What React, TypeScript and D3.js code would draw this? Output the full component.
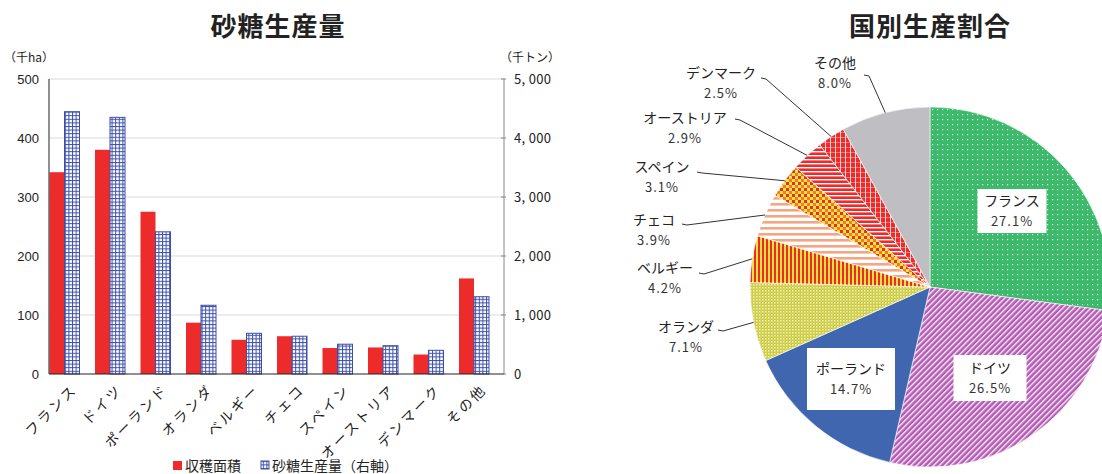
import React from "react";
import * as d3 from "d3";

// ---- data ----
const categories = ["フランス", "ドイツ", "ポーランド", "オランダ", "ベルギー", "チェコ", "スペイン", "オーストリア", "デンマーク", "その他"];
const harvestArea = [342, 380, 275, 87, 58, 64, 44, 45, 33, 162]; // 千ha
const sugarProduction = [4446, 4350, 2410, 1165, 690, 640, 505, 480, 402, 1310]; // 千トン
const shares = [27.1, 26.5, 14.7, 7.1, 4.2, 3.9, 3.1, 2.9, 2.5, 8.0]; // %
const leftTicks = [0, 100, 200, 300, 400, 500];
const rightTicks = [0, 1000, 2000, 3000, 4000, 5000];

// ---- layout / styles ----
const JP = "'Noto Sans CJK JP', 'Noto Sans', sans-serif";
const W = 1102, H = 474;
const plot = { left: 49, right: 504, top: 79, bottom: 374 };
const pieC = { x: 930, y: 287, r: 180 };
const sliceFills = ["url(#pFr)", "url(#pDe)", "#4066B0", "url(#pNl)", "url(#pBe)", "url(#pCz)", "url(#pEs)", "url(#pAt)", "url(#pDk)", "#BFBFC3"];
const insideLabels: Record<number, { cx: number; cy: number; w: number; h: number }> = {
  0: { cx: 1012, cy: 211, w: 69, h: 44 },
  1: { cx: 990, cy: 378, w: 73, h: 46 },
  2: { cx: 851, cy: 379, w: 88, h: 62 },
};
const outsideLabels: Record<number, { cx: number; cy: number; lx: number; ly: number }> = {
  3: { cx: 686, cy: 327, lx: 718, ly: 330 },
  4: { cx: 665, cy: 268, lx: 699, ly: 273 },
  5: { cx: 654, cy: 220, lx: 682, ly: 224 },
  6: { cx: 662, cy: 167, lx: 697, ly: 172 },
  7: { cx: 685, cy: 118, lx: 735, ly: 119 },
  8: { cx: 721, cy: 73, lx: 761, ly: 78 },
  9: { cx: 835, cy: 63, lx: 864, ly: 75 },
};

export default function App() {
  const x = d3.scaleBand<string>().domain(categories).range([plot.left, plot.right]).paddingInner(0).paddingOuter(0);
  const yL = d3.scaleLinear().domain([0, 500]).range([plot.bottom, plot.top]);
  const yR = d3.scaleLinear().domain([0, 5000]).range([plot.bottom, plot.top]);
  const barW = 15;
  const fmt = d3.format(",");

  const pieGen = d3.pie<number>().sort(null).value((d) => d).startAngle(0).endAngle(2 * Math.PI);
  const arcs = pieGen(shares);
  const arcGen = d3.arc<d3.PieArcDatum<number>>().innerRadius(0).outerRadius(pieC.r);

  return (
    <svg width={W} height={H} style={{ position: "absolute", left: 0, top: 0, background: "#fff" }} fontFamily={JP}>
      <defs>
        <pattern id="pBlue" width="3.6" height="3.6" patternUnits="userSpaceOnUse">
          <rect width="3.6" height="3.6" fill="#fff" />
          <rect x="0" y="0" width="3.6" height="1" fill="#3D4FA8" />
          <rect x="0" y="0" width="1" height="3.6" fill="#3D4FA8" />
        </pattern>
        <pattern id="pFr" width="5" height="5" patternUnits="userSpaceOnUse">
          <rect width="5" height="5" fill="#3DB96B" />
          <rect x="2" y="2" width="1.2" height="1.2" fill="#fff" opacity="0.85" />
        </pattern>
        <pattern id="pDe" width="4" height="4" patternUnits="userSpaceOnUse" patternTransform="rotate(45)">
          <rect width="4" height="4" fill="#B55AB4" />
          <rect x="0" y="0" width="1.4" height="4" fill="#fff" opacity="0.9" />
        </pattern>
        <pattern id="pNl" width="3" height="3" patternUnits="userSpaceOnUse">
          <rect width="3" height="3" fill="#CBC936" />
          <rect x="0" y="0" width="1.5" height="1.5" fill="#fff" opacity="0.75" />
          <rect x="1.5" y="1.5" width="1" height="1" fill="#fff" opacity="0.5" />
        </pattern>
        <pattern id="pBe" width="4" height="4" patternUnits="userSpaceOnUse">
          <rect width="4" height="4" fill="#EE2B2B" />
          <rect x="2" y="0" width="2" height="4" fill="#F2E23E" />
        </pattern>
        <pattern id="pCz" width="6" height="6" patternUnits="userSpaceOnUse">
          <rect width="6" height="6" fill="#fff" />
          <rect x="0" y="0" width="6" height="2.6" fill="#F4A582" />
        </pattern>
        <pattern id="pEs" width="6" height="6" patternUnits="userSpaceOnUse">
          <rect width="6" height="6" fill="#EE2B2B" />
          <rect x="0" y="0" width="3" height="3" fill="#F0E43E" />
          <rect x="3" y="3" width="3" height="3" fill="#F0E43E" />
          <rect x="3" y="0" width="3" height="3" fill="#F07B30" />
        </pattern>
        <pattern id="pAt" width="4" height="4" patternUnits="userSpaceOnUse">
          <rect width="4" height="4" fill="#EE2B2B" />
          <rect x="0" y="0" width="4" height="1.4" fill="#fff" />
        </pattern>
        <pattern id="pDk" width="5" height="5" patternUnits="userSpaceOnUse">
          <rect width="5" height="5" fill="#EE2B2B" />
          <rect x="0" y="0" width="0.8" height="5" fill="#fff" />
          <rect x="0" y="0" width="5" height="0.6" fill="#fff" opacity="0.6" />
        </pattern>
      </defs>

      {/* Titles */}
      <text x={278} y={36} textAnchor="middle" fontSize={26} fontWeight="bold" fill="#222" letterSpacing={1}>砂糖生産量</text>
      <text x={930} y={36} textAnchor="middle" fontSize={26} fontWeight="bold" fill="#222" letterSpacing={1}>国別生産割合</text>

      {/* Bar chart */}
      <text x={4} y={62} fontSize={12} fill="#222">（千ha）</text>
      <text x={500} y={62} fontSize={12} fill="#222">（千トン）</text>
      {leftTicks.slice(1).map((t) => (
        <line key={"g" + t} x1={plot.left} x2={plot.right} y1={yL(t)} y2={yL(t)} stroke="#D9D9D9" strokeWidth={1} />
      ))}
      {categories.map((c, i) => {
        const bx = x(c)!;
        return (
          <g key={c}>
            <rect x={bx + 0.5} y={yL(harvestArea[i])} width={barW} height={plot.bottom - yL(harvestArea[i])} fill="#EE2B2B" />
            <rect x={bx + 0.5 + barW} y={yR(sugarProduction[i])} width={barW} height={plot.bottom - yR(sugarProduction[i])} fill="url(#pBlue)" stroke="#3D4FA8" strokeWidth={1} />
          </g>
        );
      })}
      <line x1={plot.left} x2={plot.left} y1={plot.top} y2={plot.bottom} stroke="#222" />
      <line x1={plot.right} x2={plot.right} y1={plot.top} y2={plot.bottom} stroke="#888" />
      <line x1={plot.left} x2={plot.right} y1={plot.bottom} y2={plot.bottom} stroke="#222" />
      {leftTicks.map((t) => (
        <text key={"l" + t} x={39} y={yL(t)} dy="0.35em" textAnchor="end" fontSize={13} fontFamily="'Liberation Sans', Arial, sans-serif" fill="#222">{t}</text>
      ))}
      {rightTicks.map((t) => (
        <g key={"r" + t}>
          <line x1={plot.right - 3} x2={plot.right + 2} y1={yR(t)} y2={yR(t)} stroke="#888" />
          <text x={514} y={yR(t)} dy="0.35em" fontSize={13} fill="#222" letterSpacing={0.3}>{fmt(t).replace(",", ", ")}</text>
        </g>
      ))}
      {categories.map((c) => {
        const cx = x(c)! + 0.5 + barW + 10;
        const cy = plot.bottom + 13;
        return (
          <text key={"c" + c} transform={`translate(${cx},${cy}) rotate(-45)`} textAnchor="end" dy="0.35em" fontSize={14} letterSpacing={2.5} fill="#222">{c}</text>
        );
      })}

      {/* Legend */}
      <rect x={173} y={461} width={9} height={9} fill="#EE2B2B" />
      <text x={185} y={466} dy="0.35em" fontSize={14} fill="#222">収穫面積</text>
      <rect x={261} y={461} width={8} height={8} fill="url(#pBlue)" stroke="#3D4FA8" />
      <text x={272} y={466} dy="0.35em" fontSize={14} fill="#222">砂糖生産量（右軸）</text>

      {/* Pie */}
      <g transform={`translate(${pieC.x},${pieC.y})`}>
        {arcs.map((a, i) => (
          <path key={"s" + i} d={arcGen(a)!} fill={sliceFills[i]} stroke="#fff" strokeWidth={0.6} />
        ))}
      </g>
      {arcs.map((a, i) => {
        const lab = outsideLabels[i];
        if (!lab) return null;
        const mid = (a.startAngle + a.endAngle) / 2;
        const ex = pieC.x + pieC.r * Math.sin(mid);
        const ey = pieC.y - pieC.r * Math.cos(mid);
        return (
          <g key={"o" + i}>
            <polyline points={`${lab.lx},${lab.ly} ${lab.lx + 5},${lab.ly + 1} ${ex},${ey}`} fill="none" stroke="#333" strokeWidth={1} />
            <text x={lab.cx} y={lab.cy} dy="0.35em" textAnchor="middle" fontSize={14} fill="#222">{categories[i]}</text>
            <text x={lab.cx} y={lab.cy + 20} dy="0.35em" textAnchor="middle" fontSize={13} fill="#333" letterSpacing={1}>{shares[i].toFixed(1)}%</text>
          </g>
        );
      })}
      {arcs.map((a, i) => {
        const lab = insideLabels[i];
        if (!lab) return null;
        return (
          <g key={"in" + i}>
            <rect x={lab.cx - lab.w / 2} y={lab.cy - lab.h / 2} width={lab.w} height={lab.h} fill="#fff" />
            <text x={lab.cx} y={lab.cy - 10} dy="0.35em" textAnchor="middle" fontSize={14} fill="#222">{categories[i]}</text>
            <text x={lab.cx} y={lab.cy + 10} dy="0.35em" textAnchor="middle" fontSize={13} fill="#333" letterSpacing={1}>{shares[i].toFixed(1)}%</text>
          </g>
        );
      })}
    </svg>
  );
}
